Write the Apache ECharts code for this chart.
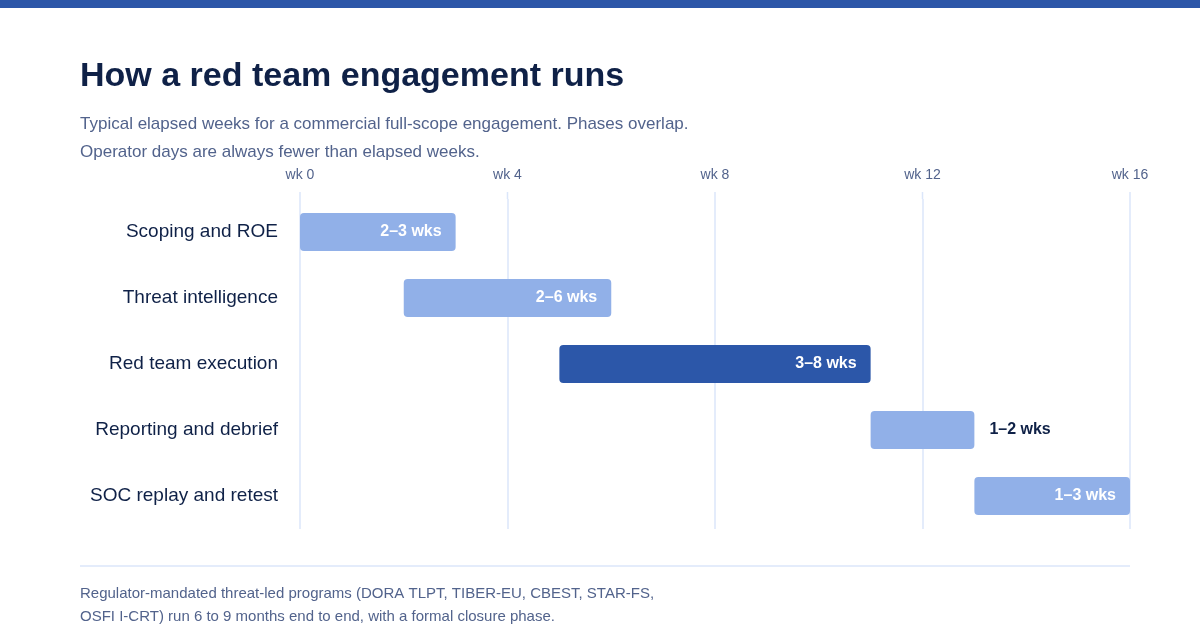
<!DOCTYPE html>
<html>
<head>
<meta charset="utf-8">
<title>How a red team engagement runs</title>
<script src="https://cdn.jsdelivr.net/npm/echarts@6/dist/echarts.min.js"></script>
<style>
  html, body { margin: 0; padding: 0; background: #fff; }
  #chart { width: 1200px; height: 640px; }
</style>
</head>
<body>
<div id="chart"></div>
<script>
// phases, top to bottom
const phases = [
  "Scoping and ROE",
  "Threat intelligence",
  "Red team execution",
  "Reporting and debrief",
  "SOC replay and retest"
];
// elapsed week where each phase starts / ends
const startWeek = [0, 2, 5, 11, 13];
const endWeek = [3, 6, 11, 13, 16];
const durationLabels = ["2–3 wks", "2–6 wks", "3–8 wks", "1–2 wks", "1–3 wks"];
const highlighted = [false, false, true, false, false];
const labelOutside = [false, false, false, true, false];

const font = "'Liberation Sans', Arial, Helvetica, sans-serif";
const navy = "#0f2147";
const muted = "#52638c";
const lightBar = "#91b0e8";
const darkBar = "#2c57a9";

const chart = echarts.init(document.getElementById("chart"));

const spanData = phases.map((name, i) => ({
  value: endWeek[i] - startWeek[i],
  itemStyle: { color: highlighted[i] ? darkBar : lightBar },
  label: labelOutside[i]
    ? { position: "right", distance: 15, color: navy }
    : { position: "insideRight", distance: 14, color: "#fff" }
}));

const option = {
  backgroundColor: "#fff",
  textStyle: { fontFamily: font },
  title: {
    left: 75,
    top: 55,
    text: "How a red team engagement runs",
    textStyle: { fontFamily: font, fontSize: 34, fontWeight: "bold", color: navy },
    subtext: "Typical elapsed weeks for a commercial full-scope engagement. Phases overlap.\nOperator days are always fewer than elapsed weeks.",
    subtextStyle: { fontFamily: font, fontSize: 17, color: muted, lineHeight: 28 },
    itemGap: 16
  },
  grid: { left: 300, right: 70, top: 199, bottom: 111 },
  xAxis: {
    type: "value",
    position: "top",
    min: 0,
    max: 16,
    interval: 4,
    axisLine: { show: false },
    axisTick: { show: false },
    axisLabel: {
      margin: 17,
      fontSize: 14,
      color: muted,
      formatter: v => "wk " + v
    },
    splitLine: { lineStyle: { color: "#dbe6fa", width: 1.5 } }
  },
  yAxis: {
    type: "category",
    inverse: true,
    data: phases,
    axisLine: { show: false },
    axisTick: { show: false },
    axisLabel: { margin: 22, fontSize: 19, color: navy }
  },
  series: [
    {
      type: "bar",
      stack: "gantt",
      silent: true,
      itemStyle: { color: "transparent" },
      data: startWeek,
      barWidth: 38
    },
    {
      type: "bar",
      stack: "gantt",
      barWidth: 38,
      itemStyle: { borderRadius: 4 },
      label: {
        show: true,
        fontSize: 16,
        fontWeight: "bold",
        formatter: p => durationLabels[p.dataIndex]
      },
      data: spanData
    }
  ],
  graphic: [
    {
      type: "rect",
      left: 0,
      top: 0,
      shape: { width: 1200, height: 8 },
      style: { fill: "#2c56a8" }
    },
    {
      // grid lines in the reference start a little above the first band
      type: "group",
      silent: true,
      children: [0, 4, 8, 12, 16].map(w => ({
        type: "line",
        shape: { x1: 300 + w * 830 / 16, y1: 192, x2: 300 + w * 830 / 16, y2: 199 },
        style: { stroke: "#dbe6fa", lineWidth: 1.5 }
      }))
    },
    {
      type: "line",
      shape: { x1: 80, y1: 566, x2: 1130, y2: 566 },
      style: { stroke: "#dbe6fa", lineWidth: 1.5 }
    },
    {
      type: "text",
      left: 80,
      top: 582,
      style: {
        text: "Regulator-mandated threat-led programs (DORA TLPT, TIBER-EU, CBEST, STAR-FS,\nOSFI I-CRT) run 6 to 9 months end to end, with a formal closure phase.",
        font: "15px " + font,
        fill: muted,
        lineHeight: 23
      }
    }
  ]
};

chart.setOption(option);
</script>
</body>
</html>
